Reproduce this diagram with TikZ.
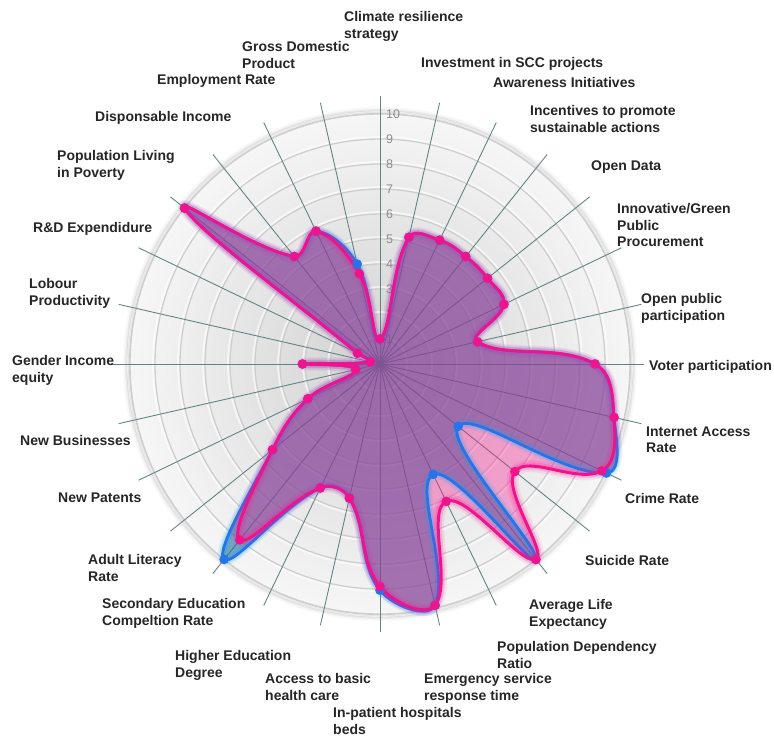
\documentclass[tikz,border=0pt]{standalone}
\usepackage{fontspec}
\setmainfont{Liberation Sans}
\usetikzlibrary{calc}

% palette
\definecolor{labeltext}{RGB}{38,38,38}
\definecolor{ticktext}{RGB}{140,140,140}
\definecolor{spoke}{RGB}{100,132,132}
\definecolor{ringline}{RGB}{206,206,206}
\definecolor{discin}{RGB}{208,208,208}
\definecolor{discmid}{RGB}{226,226,226}
\definecolor{discout}{RGB}{246,246,246}
\definecolor{pinkline}{RGB}{240,20,140}
\definecolor{pinkfill}{RGB}{255,20,147}
\definecolor{blueline}{RGB}{40,115,230}
\definecolor{bluefill}{RGB}{30,110,160}
\definecolor{blueglow}{RGB}{0,170,255}

\pgfdeclareradialshading{discshade}{\pgfpoint{0bp}{0bp}}{%
  color(0bp)=(discin); color(12bp)=(discmid); color(25bp)=(discout); color(50bp)=(discout)}

% scores on the 28 axes, clockwise from the top (0..10)
\def\valsP{{1.0,5.2,5.5,5.5,5.5,5.5,4.0,8.6,9.6,9.85,6.9,10,6.1,9.9,8.9,5.5,5.5,9.0,5.5,3.2,1.0,3.1,0.4,1.0,10,5.5,5.9,3.7}}
\def\valsB{{1.0,5.2,5.5,5.5,5.5,5.5,4.0,8.6,9.6,10.05,4.0,10,4.9,9.9,9.05,5.5,5.5,10,5.5,3.2,1.0,3.1,0.4,1.0,10,5.5,5.9,4.1}}
\newcommand\radartension{0.4}

% points and spline control points of one series (#1 prefix, #2 values)
\newcommand\radarpoints[2]{%
  \foreach \i in {0,...,27}{%
    \pgfmathsetmacro\rdRr{25*#2[\i]}%
    \coordinate (#1\i) at ({-90+\i*360/28}:\rdRr);
  }%
  \foreach \i in {0,...,27}{%
    \pgfmathtruncatemacro\rdNext{mod(\i+1,28)}%
    \pgfmathtruncatemacro\rdPrev{mod(\i+27,28)}%
    \pgfmathsetmacro\rdA{#2[\rdPrev]}%
    \pgfmathsetmacro\rdB{#2[\i]}%
    \pgfmathsetmacro\rdC{#2[\rdNext]}%
    \pgfmathsetmacro\rdDa{sqrt(\rdA*\rdA+\rdB*\rdB-2*\rdA*\rdB*cos(360/28))}%
    \pgfmathsetmacro\rdDb{sqrt(\rdB*\rdB+\rdC*\rdC-2*\rdB*\rdC*cos(360/28))}%
    \pgfmathsetmacro\rdFa{\radartension*\rdDa/(\rdDa+\rdDb)}%
    \pgfmathsetmacro\rdFb{\radartension*\rdDb/(\rdDa+\rdDb)}%
    \coordinate (#1in\i) at ($(#1\i) - \rdFa*(#1\rdNext) + \rdFa*(#1\rdPrev)$);
    \coordinate (#1out\i) at ($(#1\i) + \rdFb*(#1\rdNext) - \rdFb*(#1\rdPrev)$);
  }%
}
% closed smooth outline of one series
\newcommand\radarcurve[2]{%
  \path[#2] (#10) \foreach \i [count=\j from 1] in {0,...,26}{
      .. controls (#1out\i) and (#1in\j) .. (#1\j)}
    .. controls (#1out27) and (#1in0) .. (#10) -- cycle;
}

\tikzset{
  lab/.style={font=\bfseries\fontsize{14}{16.5}\selectfont, text=labeltext,
    inner sep=0pt, anchor=north west, align=left},
  ticklab/.style={font=\fontsize{12.5}{12.5}\selectfont, text=ticktext,
    inner sep=0pt, anchor=west},
  spokeline/.style={draw=spoke, line width=0.9pt},
}

\begin{document}
\begin{tikzpicture}[x=1pt, y=-1pt]
\useasboundingbox (0,0) rectangle (774,740);
\fill[white] (0,0) rectangle (774,740);

\begin{scope}[shift={(380,364)}]
  % shaded disc with its soft rim
  \foreach \w/\o in {12/.03, 8/.05, 5/.07, 2.5/.10}
    \draw[black, line width=\w pt, opacity=\o] (0,0) circle[radius=251pt];
  \shade[shading=discshade] (0,0) circle[radius=250pt];
  % rings
  \foreach \k in {1,...,10}{
    \draw[white, line width=2.2pt, opacity=.6] (0,0) circle[radius=\k*25pt+1.8pt];
    \draw[ringline, line width=1.3pt] (0,0) circle[radius=\k*25pt];
  }
  % spokes
  \foreach \i in {0,...,27}{
    \pgfmathsetmacro\rdLen{\i==7 ? 264 : 268}
    \draw[spokeline] (0,0) -- ({-90+\i*360/28}:\rdLen);
  }
  % scale
  \foreach \k in {1,...,10}
    \node[ticklab] (tick\k) at (6,-25*\k) {\k};

  \radarpoints{B}{\valsB}
  \radarpoints{P}{\valsP}

  % fills
  \radarcurve{B}{fill=bluefill, fill opacity=.6}
  \radarcurve{P}{fill=pinkfill, fill opacity=.35}

  % outlines with glow
  \radarcurve{B}{draw=blueglow, line width=10pt, draw opacity=.10, line join=round}
  \radarcurve{B}{draw=blueglow, line width=6.5pt, draw opacity=.18, line join=round}
  \radarcurve{B}{draw=blueline, line width=2.8pt, line join=round}
  \radarcurve{P}{draw=pinkfill, line width=12pt, draw opacity=.10, line join=round}
  \radarcurve{P}{draw=pinkfill, line width=7.5pt, draw opacity=.18, line join=round}
  \radarcurve{P}{draw=pinkline, line width=3pt, line join=round}

  % data points
  \foreach \i in {0,...,27}
    \fill[blueline] (B\i) circle[radius=4.8pt];
  \foreach \i in {0,...,27}
    \fill[pinkline] (P\i) circle[radius=4.8pt];
\end{scope}

% axis titles
\node[lab] (l00) at (344,11.5)  {Climate resilience\\strategy};
\node[lab] (l01) at (421,57.5)  {Investment in SCC projects};
\node[lab] (l02) at (493,77.5)  {Awareness Initiatives};
\node[lab] (l03) at (530,105.5) {Incentives to promote\\sustainable actions};
\node[lab] (l04) at (591,160.5) {Open Data};
\node[lab] (l05) at (617,203.5) {Innovative/Green\\Public\\Procurement};
\node[lab] (l06) at (641,293.5) {Open public\\participation};
\node[lab] (l07) at (649,360.5) {Voter participation};
\node[lab] (l08) at (646,426.5) {Internet Access\\Rate};
\node[lab] (l09) at (625,493.5) {Crime Rate};
\node[lab] (l10) at (585,555.5) {Suicide Rate};
\node[lab] (l11) at (529,599.5) {Average Life\\Expectancy};
\node[lab] (l12) at (497,641.5) {Population Dependency\\Ratio};
\node[lab] (l13) at (424,673.5) {Emergency service\\response time};
\node[lab] (l14) at (333,707.5) {In-patient hospitals\\beds};
\node[lab] (l15) at (265,673.5) {Access to basic\\health care};
\node[lab] (l16) at (175,650.5) {Higher Education\\Degree};
\node[lab] (l17) at (102,598.5) {Secondary Education\\Compeltion Rate};
\node[lab] (l18) at (88,554.5)  {Adult Literacy\\Rate};
\node[lab] (l19) at (58,492.5)  {New Patents};
\node[lab] (l20) at (20,435.5)  {New Businesses};
\node[lab] (l21) at (12,355.5)  {Gender Income\\equity};
\node[lab] (l22) at (29,278.5)  {Lobour\\Productivity};
\node[lab] (l23) at (33,222.5)  {R\&D Expendidure};
\node[lab] (l24) at (57,150.5)  {Population Living\\in Poverty};
\node[lab] (l25) at (95,111.5)  {Disponsable Income};
\node[lab] (l26) at (157,74.5)  {Employment Rate};
\node[lab] (l27) at (242,41.5)  {Gross Domestic\\Product};
\end{tikzpicture}
\end{document}
